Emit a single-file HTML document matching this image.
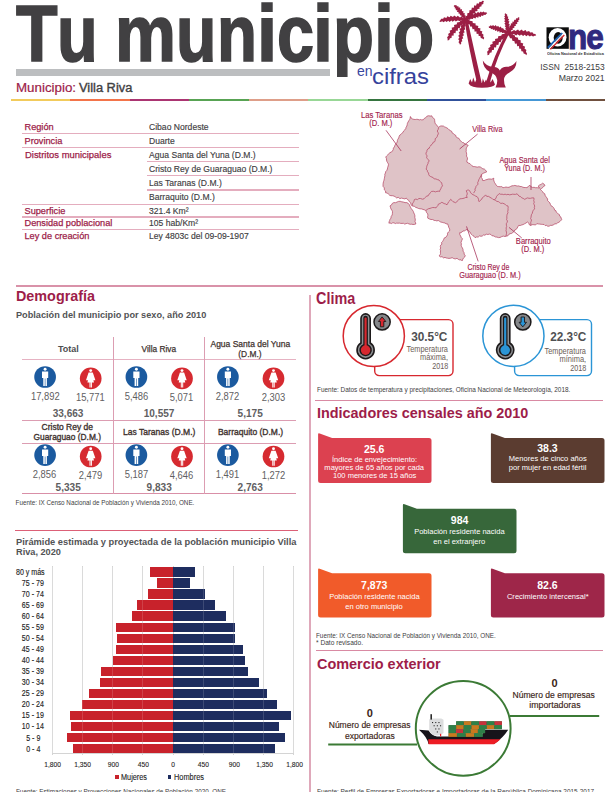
<!DOCTYPE html>
<html><head><meta charset="utf-8"><title>Tu municipio en cifras - Villa Riva</title>
<style>
html,body{margin:0;padding:0;background:#fff;}
body{width:612px;height:792px;position:relative;overflow:hidden;font-family:"Liberation Sans",sans-serif;}
.t{position:absolute;white-space:nowrap;line-height:1;margin:0;padding:0;}
.r{position:absolute;}
svg{position:absolute;left:0;top:0;overflow:visible;}
</style></head><body>

<div class="r" style="left:16.00px;top:69.30px;width:314.20px;height:7.10px;background:#bcbec0;"></div>
<div class="t" style="left:16.01px;top:-6.42px;font-size:80px;font-weight:bold;color:#414042;transform-origin:0 50%;transform:scaleX(0.8501);-webkit-text-stroke:1.6px #414042;">T</div>
<div class="t" style="left:57.00px;top:-6.42px;font-size:80px;font-weight:bold;color:#414042;transform-origin:0 50%;transform:scaleX(0.8333);-webkit-text-stroke:1.6px #414042;">u</div>
<div class="t" style="left:115.04px;top:-6.42px;font-size:80px;font-weight:bold;color:#414042;transform-origin:0 50%;transform:scaleX(0.8576);-webkit-text-stroke:1.6px #414042;">m</div>
<div class="t" style="left:176.42px;top:-6.42px;font-size:80px;font-weight:bold;color:#414042;transform-origin:0 50%;transform:scaleX(0.8284);-webkit-text-stroke:1.6px #414042;">u</div>
<div class="t" style="left:216.92px;top:-6.42px;font-size:80px;font-weight:bold;color:#414042;transform-origin:0 50%;transform:scaleX(0.8184);-webkit-text-stroke:1.6px #414042;">n</div>
<div class="t" style="left:257.06px;top:-6.42px;font-size:80px;font-weight:bold;color:#414042;transform-origin:0 50%;transform:scaleX(0.9048);-webkit-text-stroke:1.6px #414042;">i</div>
<div class="t" style="left:276.79px;top:-6.42px;font-size:80px;font-weight:bold;color:#414042;transform-origin:0 50%;transform:scaleX(0.8325);-webkit-text-stroke:1.6px #414042;">c</div>
<div class="t" style="left:313.30px;top:-6.42px;font-size:80px;font-weight:bold;color:#414042;transform-origin:0 50%;transform:scaleX(0.8968);-webkit-text-stroke:1.6px #414042;">i</div>
<div class="t" style="left:333.33px;top:-6.42px;font-size:80px;font-weight:bold;color:#414042;transform-origin:0 50%;transform:scaleX(0.8377);-webkit-text-stroke:1.6px #414042;clip-path:inset(-10px -10px -3.5px -10px);">p</div>
<div class="t" style="left:373.70px;top:-6.42px;font-size:80px;font-weight:bold;color:#414042;transform-origin:0 50%;transform:scaleX(0.8968);-webkit-text-stroke:1.6px #414042;">i</div>
<div class="t" style="left:392.86px;top:-6.42px;font-size:80px;font-weight:bold;color:#414042;transform-origin:0 50%;transform:scaleX(0.8416);-webkit-text-stroke:1.6px #414042;">o</div>
<div class="t" style="top:64.00px;font-size:14.5px;color:#3a479f;left:356.60px;transform-origin:0 50%;transform:scaleX(0.9672);">en</div>
<div class="t" style="top:66.00px;font-size:22.5px;color:#36439c;left:372.40px;transform-origin:0 50%;transform:scaleX(1.0603);">cifras</div>
<div class="t" style="top:82.00px;font-size:12px;color:#9d1d49;left:16.00px;transform-origin:0 50%;transform:scaleX(1.1106);-webkit-text-stroke:0.2px #9d1d49;">Municipio:</div>
<div class="t" style="top:82.00px;font-size:12px;color:#414042;left:79.00px;transform-origin:0 50%;transform:scaleX(1.0703);-webkit-text-stroke:0.35px #414042;">Villa Riva</div>
<div class="t" style="top:62.00px;font-size:9.6px;color:#3a3a3c;left:530.55px;transform-origin:100% 50%;transform:scaleX(0.8744);white-space:pre;">ISSN  2518-2153</div>
<div class="t" style="top:73.00px;font-size:9.6px;color:#3a3a3c;left:553.50px;transform-origin:100% 50%;transform:scaleX(0.9074);">Marzo 2021</div>
<svg width="612" height="100" viewBox="0 0 612 100">
<g fill="#9c1f45">
<path d="M465.6,19.6 L467.2,19.9 L467.8,18.6 L470.2,17.6 L470.3,16.2 L472.9,15.4 L472.7,13.8 L475.4,13.1 L475.0,11.5 L477.6,10.9 L477.2,9.2 L479.7,8.6 L479.4,6.9 L481.6,6.3 L481.5,4.7 L483.3,3.9 L483.4,2.3 L484.0,1.0 L484.0,1.0 L484.0,1.0 L482.4,0.7 L481.2,2.0 L479.6,1.7 L478.6,3.7 L476.9,3.3 L476.0,5.7 L474.3,5.3 L473.6,7.9 L471.9,7.6 L471.3,10.3 L469.6,10.1 L469.1,12.9 L467.5,13.0 L467.1,15.7 L465.7,16.3 L465.2,18.8Z"/>
<path d="M465.6,19.6 L466.8,20.5 L467.8,19.6 L470.0,19.8 L470.6,18.7 L473.0,19.1 L473.3,17.8 L475.7,18.4 L476.0,17.0 L478.3,17.7 L478.6,16.2 L480.8,16.9 L481.2,15.5 L483.1,16.0 L483.7,14.7 L485.4,15.0 L486.2,13.9 L487.2,13.2 L487.2,13.2 L487.2,13.2 L486.2,12.2 L484.7,12.6 L483.6,11.6 L481.9,12.6 L480.9,11.5 L479.2,13.0 L478.1,11.8 L476.4,13.6 L475.2,12.5 L473.6,14.4 L472.4,13.6 L470.9,15.6 L469.6,15.1 L468.2,17.0 L466.9,16.9 L465.6,18.8Z"/>
<path d="M465.6,19.6 L466.5,18.4 L465.6,17.7 L465.7,15.6 L464.6,15.3 L464.7,13.1 L463.4,13.2 L463.3,10.9 L462.0,11.2 L461.8,9.0 L460.4,9.4 L460.1,7.3 L458.8,7.8 L458.2,6.0 L457.0,6.4 L456.3,5.0 L455.1,5.3 L454.0,5.2 L454.0,5.2 L454.0,5.2 L453.8,6.4 L454.9,7.1 L454.6,8.3 L456.1,8.8 L455.6,10.0 L457.5,10.5 L456.8,11.7 L458.8,12.2 L458.2,13.3 L460.3,13.9 L459.6,15.0 L461.7,15.7 L461.3,16.8 L463.2,17.6 L463.1,18.6 L464.8,19.6Z"/>
<path d="M465.6,19.6 L465.2,18.0 L463.6,18.2 L461.4,16.6 L460.0,17.4 L457.7,15.8 L456.5,17.0 L454.1,15.5 L453.0,16.9 L450.6,15.7 L449.7,17.2 L447.2,16.3 L446.4,17.9 L444.0,17.3 L443.2,18.8 L441.2,18.8 L440.3,20.2 L439.2,21.2 L439.2,21.2 L439.2,21.2 L440.6,22.0 L442.2,21.3 L443.5,22.2 L445.3,21.0 L446.4,22.1 L448.4,20.7 L449.4,22.0 L451.6,20.4 L452.5,21.8 L454.8,20.3 L455.7,21.5 L458.1,20.2 L459.0,21.3 L461.5,20.2 L462.7,21.0 L465.1,20.3Z"/>
<path d="M465.6,19.6 L464.1,18.7 L463.0,20.0 L460.3,20.4 L459.8,22.0 L456.9,22.6 L456.9,24.3 L454.0,25.1 L454.3,26.9 L451.6,27.8 L452.1,29.6 L449.6,30.8 L450.2,32.6 L448.1,33.9 L448.7,35.6 L447.1,37.2 L447.6,38.8 L447.6,40.4 L447.6,40.4 L447.6,40.4 L449.2,40.0 L449.9,38.2 L451.5,37.9 L451.8,35.6 L453.5,35.7 L453.8,33.1 L455.5,33.3 L455.9,30.6 L457.6,30.9 L458.1,28.1 L459.7,28.4 L460.5,25.6 L462.0,25.7 L463.0,23.1 L464.5,22.9 L465.7,20.5Z"/>
<path d="M465.6,19.6 L464.1,19.7 L463.9,21.2 L462.1,23.0 L462.5,24.4 L460.6,26.2 L461.3,27.6 L459.4,29.5 L460.4,30.8 L458.7,32.8 L459.8,34.0 L458.2,36.0 L459.4,37.2 L458.2,39.2 L459.3,40.4 L458.5,42.2 L459.5,43.4 L460.0,44.8 L460.0,44.8 L460.0,44.8 L461.2,43.8 L461.1,42.1 L462.3,41.2 L461.8,39.1 L463.2,38.4 L462.5,36.1 L463.9,35.5 L463.2,33.1 L464.6,32.5 L463.9,30.0 L465.3,29.4 L464.6,26.8 L465.8,26.1 L465.4,23.6 L466.4,22.6 L466.2,20.2Z"/>
<path d="M465.6,19.6 L465.4,21.3 L466.9,21.8 L468.0,24.2 L469.5,24.2 L470.4,26.8 L471.9,26.6 L472.6,29.3 L474.2,28.9 L474.7,31.7 L476.3,31.3 L476.7,33.9 L478.4,33.7 L478.7,36.1 L480.3,36.1 L480.8,38.1 L482.3,38.5 L483.6,39.4 L483.6,39.4 L483.6,39.4 L484.2,37.8 L483.1,36.3 L483.6,34.7 L481.7,33.3 L482.4,31.6 L480.0,30.4 L480.6,28.6 L477.9,27.7 L478.4,25.9 L475.5,25.2 L475.7,23.4 L472.8,22.9 L472.6,21.2 L469.8,20.8 L469.0,19.4 L466.4,19.1Z"/>
<path d="M507.5,33.4 L508.8,32.8 L508.4,31.7 L509.4,29.8 L508.6,28.9 L509.7,27.0 L508.7,26.3 L509.8,24.3 L508.5,23.6 L509.5,21.6 L508.2,21.1 L509.1,19.2 L507.8,18.6 L508.3,16.8 L507.1,16.3 L507.3,14.7 L506.3,14.1 L505.5,13.2 L505.5,13.2 L505.5,13.2 L504.6,14.1 L505.1,15.4 L504.2,16.3 L505.1,17.8 L504.1,18.6 L505.3,20.2 L504.1,21.0 L505.5,22.7 L504.3,23.4 L505.7,25.2 L504.7,25.9 L506.0,27.7 L505.2,28.5 L506.4,30.3 L505.8,31.3 L506.8,33.1Z"/>
<path d="M507.5,33.4 L509.0,33.5 L509.2,32.4 L511.1,31.5 L510.9,30.4 L513.0,29.5 L512.5,28.4 L514.6,27.6 L514.0,26.4 L516.1,25.6 L515.4,24.4 L517.4,23.7 L516.8,22.5 L518.6,21.7 L518.1,20.5 L519.4,19.7 L519.2,18.5 L519.4,17.4 L519.4,17.4 L519.4,17.4 L518.1,17.2 L517.4,18.4 L516.1,18.2 L515.6,19.9 L514.2,19.7 L513.9,21.7 L512.5,21.4 L512.3,23.6 L510.9,23.3 L510.8,25.6 L509.4,25.5 L509.4,27.8 L508.2,28.0 L508.2,30.2 L507.1,30.7 L507.1,32.7Z"/>
<path d="M507.5,33.4 L508.4,34.7 L510.0,34.1 L512.5,35.1 L513.8,34.1 L516.3,35.4 L517.4,34.2 L519.9,35.7 L521.0,34.4 L523.3,36.0 L524.4,34.7 L526.6,36.2 L527.8,35.0 L529.9,36.4 L531.2,35.4 L533.1,36.5 L534.6,35.8 L536.2,35.6 L536.2,35.6 L536.2,35.6 L535.4,34.1 L533.4,33.8 L532.4,32.3 L530.1,32.6 L529.1,31.0 L526.6,31.7 L525.6,30.1 L523.0,31.2 L521.9,29.6 L519.3,30.9 L518.0,29.6 L515.5,31.1 L514.1,30.1 L511.6,31.6 L510.0,31.1 L507.8,32.6Z"/>
<path d="M507.5,33.4 L507.3,35.1 L508.9,35.7 L510.1,38.2 L511.7,38.3 L512.6,41.0 L514.3,40.9 L515.0,43.7 L516.7,43.4 L517.2,46.3 L518.9,46.1 L519.3,48.8 L521.0,48.7 L521.4,51.2 L523.1,51.4 L523.6,53.6 L525.1,54.1 L526.4,55.2 L526.4,55.2 L526.4,55.2 L527.0,53.5 L525.9,51.8 L526.4,50.1 L524.5,48.5 L525.1,46.7 L522.7,45.4 L523.3,43.5 L520.5,42.4 L520.9,40.5 L518.0,39.6 L518.1,37.7 L515.1,37.1 L514.8,35.3 L511.9,34.8 L511.1,33.3 L508.3,32.9Z"/>
<path d="M507.5,33.4 L507.7,31.8 L506.5,31.6 L505.4,29.6 L504.2,29.9 L503.0,27.9 L501.9,28.6 L500.6,26.6 L499.4,27.6 L498.0,25.7 L497.0,26.8 L495.5,25.1 L494.5,26.3 L493.0,25.0 L492.0,26.1 L490.6,25.3 L489.6,26.3 L488.6,26.8 L488.6,26.8 L488.6,26.8 L489.1,28.0 L490.5,28.0 L491.0,29.2 L492.7,28.7 L492.9,30.1 L494.9,29.5 L495.0,30.9 L497.1,30.2 L497.1,31.7 L499.4,31.0 L499.5,32.4 L501.8,31.9 L501.9,33.1 L504.2,32.8 L504.7,33.8 L506.8,33.8Z"/>
<path d="M507.5,33.4 L506.1,32.5 L504.8,33.8 L501.9,34.2 L501.2,35.8 L498.2,36.3 L498.0,38.2 L495.0,38.9 L495.2,40.8 L492.3,41.8 L492.7,43.7 L490.0,44.9 L490.5,46.8 L488.3,48.2 L488.8,50.1 L487.1,51.7 L487.5,53.5 L487.4,55.2 L487.4,55.2 L487.4,55.2 L489.1,54.7 L489.8,52.8 L491.5,52.4 L492.0,50.0 L493.8,50.0 L494.2,47.3 L496.0,47.5 L496.5,44.7 L498.3,44.9 L499.0,42.1 L500.7,42.3 L501.6,39.5 L503.3,39.6 L504.5,36.9 L506.1,36.7 L507.6,34.3Z"/>
<path d="M464.4,19 Q468.6,48 477.2,83.8 L481.9,83.8 Q473.6,48 467.4,19Z"/>
<path d="M506.3,33 Q494.2,54 485.6,83.8 L489.4,83.8 Q497.2,56 508.8,34.3Z"/>
<path d="M468.6,83.5 L470.2,79 L472,82.5 L473.2,77.5 L475,82.5 L476.6,79 L478,83 L482,83 L482.8,78.5 L484.5,82.5 L486,79.5 L487.4,82.5 L489.6,78 L490.6,82.5 L492.6,79 L495,84.5 Q494,87.6 482,87.8 Q471,87.8 468.6,83.5Z"/>
<path d="M482.8,60.5 Q486,66 493,67 Q498,66.5 499.8,70.5 Q502,66.5 507,66.8 Q513.5,66 516.5,61 Q516.5,69 509.5,72.5 Q504,75 504,80 Q504,84.5 505.8,87.5 L495.5,87.5 Q497.5,84 497.2,80 Q496.5,74.5 490,72 Q483,68.5 482.8,60.5Z"/>
</g>
<rect x="546.5" y="27.3" width="22.3" height="21.5" fill="#0d0d0d"/>
<ellipse cx="557.6" cy="37.3" rx="8.9" ry="9.2" fill="#fff"/>
<ellipse cx="558.2" cy="37.8" rx="4.5" ry="5.9" fill="#0d0d0d"/>
<path d="M547.2,47.0 L561.6,32.4 L563.0,33.6 L548.6,48.6Z" fill="#1f63b5"/>
<path d="M548.6,48.6 L563.0,33.6 L563.8,34.4 L549.6,49.2Z" fill="#fff"/>
<path d="M549.6,49.2 L563.8,34.4 L564.8,35.6 L551.2,49.6Z" fill="#d7282f"/>
</svg>
<div class="t" style="top:20.00px;font-size:34.5px;color:#2f2a7f;font-weight:bold;left:568.30px;transform-origin:0 50%;transform:scaleX(0.9140);letter-spacing:-1px;-webkit-text-stroke:1.0px #2f2a7f;">ne</div>
<div class="t" style="top:52.00px;font-size:3.9px;color:#333;font-weight:bold;left:546.70px;transform-origin:0 50%;transform:scaleX(0.9850);">Oficina Nacional de Estadística</div>
<div class="r" style="left:11.00px;top:99.00px;width:59.72px;height:1.55px;background:#f2cb5c;"></div>
<div class="r" style="left:70.42px;top:99.00px;width:59.72px;height:1.55px;background:#f3744a;"></div>
<div class="r" style="left:129.84px;top:99.00px;width:59.72px;height:1.55px;background:#ab3572;"></div>
<div class="r" style="left:189.26px;top:99.00px;width:59.72px;height:1.55px;background:#58a353;"></div>
<div class="r" style="left:248.68px;top:99.00px;width:59.72px;height:1.55px;background:#de9e89;"></div>
<div class="r" style="left:308.10px;top:99.00px;width:59.72px;height:1.55px;background:#98d796;"></div>
<div class="r" style="left:367.52px;top:99.00px;width:59.72px;height:1.55px;background:#35743f;"></div>
<div class="r" style="left:426.94px;top:99.00px;width:59.72px;height:1.55px;background:#30519b;"></div>
<div class="r" style="left:486.36px;top:99.00px;width:59.72px;height:1.55px;background:#4597d5;"></div>
<div class="r" style="left:545.78px;top:99.00px;width:59.72px;height:1.55px;background:#70503f;"></div>
<div class="t" style="top:123.00px;font-size:9.2px;color:#9d1d49;left:24.50px;transform-origin:0 50%;-webkit-text-stroke:0.25px #9d1d49;">Región</div>
<div class="t" style="top:123.00px;font-size:8.8px;color:#414042;left:149.00px;transform-origin:0 50%;transform:scaleX(0.9750);-webkit-text-stroke:0.15px #414042;">Cibao Nordeste</div>
<div class="t" style="top:137.00px;font-size:9.2px;color:#9d1d49;left:24.50px;transform-origin:0 50%;-webkit-text-stroke:0.25px #9d1d49;">Provincia</div>
<div class="t" style="top:137.00px;font-size:8.8px;color:#414042;left:149.00px;transform-origin:0 50%;transform:scaleX(0.9750);-webkit-text-stroke:0.15px #414042;">Duarte</div>
<div class="t" style="top:151.00px;font-size:9.2px;color:#9d1d49;left:24.50px;transform-origin:0 50%;transform:scaleX(1.0254);-webkit-text-stroke:0.25px #9d1d49;">Distritos municipales</div>
<div class="t" style="top:151.00px;font-size:8.8px;color:#414042;left:149.00px;transform-origin:0 50%;transform:scaleX(0.9750);-webkit-text-stroke:0.15px #414042;">Agua Santa del Yuna (D.M.)</div>
<div class="t" style="top:165.00px;font-size:8.8px;color:#414042;left:149.00px;transform-origin:0 50%;transform:scaleX(0.9750);-webkit-text-stroke:0.15px #414042;">Cristo Rey de Guaraguao (D.M.)</div>
<div class="t" style="top:179.00px;font-size:8.8px;color:#414042;left:149.00px;transform-origin:0 50%;transform:scaleX(0.9750);-webkit-text-stroke:0.15px #414042;">Las Taranas (D.M.)</div>
<div class="t" style="top:193.00px;font-size:8.8px;color:#414042;left:149.00px;transform-origin:0 50%;transform:scaleX(0.9750);-webkit-text-stroke:0.15px #414042;">Barraquito (D.M.)</div>
<div class="t" style="top:207.00px;font-size:9.2px;color:#9d1d49;left:24.50px;transform-origin:0 50%;-webkit-text-stroke:0.25px #9d1d49;">Superficie</div>
<div class="t" style="top:207.00px;font-size:8.8px;color:#414042;left:149.00px;transform-origin:0 50%;transform:scaleX(0.9750);-webkit-text-stroke:0.15px #414042;">321.4 Km²</div>
<div class="t" style="top:219.00px;font-size:9.2px;color:#9d1d49;left:24.50px;transform-origin:0 50%;-webkit-text-stroke:0.25px #9d1d49;">Densidad poblacional</div>
<div class="t" style="top:219.00px;font-size:8.8px;color:#414042;left:149.00px;transform-origin:0 50%;transform:scaleX(0.9750);-webkit-text-stroke:0.15px #414042;">105 hab/Km²</div>
<div class="t" style="top:232.00px;font-size:9.2px;color:#9d1d49;left:24.50px;transform-origin:0 50%;-webkit-text-stroke:0.25px #9d1d49;">Ley de creación</div>
<div class="t" style="top:232.00px;font-size:8.8px;color:#414042;left:149.00px;transform-origin:0 50%;transform:scaleX(0.9750);-webkit-text-stroke:0.15px #414042;">Ley 4803c del 09-09-1907</div>
<div class="r" style="left:22.00px;top:132.80px;width:277.00px;height:1.50px;background:#e4adbe;"></div>
<div class="r" style="left:22.00px;top:146.80px;width:277.00px;height:1.50px;background:#e4adbe;"></div>
<div class="r" style="left:147.00px;top:160.80px;width:152.00px;height:1.50px;background:#e4adbe;"></div>
<div class="r" style="left:147.00px;top:174.80px;width:152.00px;height:1.50px;background:#e4adbe;"></div>
<div class="r" style="left:147.00px;top:189.30px;width:152.00px;height:1.50px;background:#e4adbe;"></div>
<div class="r" style="left:22.00px;top:203.60px;width:277.00px;height:1.50px;background:#e4adbe;"></div>
<div class="r" style="left:22.00px;top:216.10px;width:277.00px;height:1.50px;background:#e4adbe;"></div>
<div class="r" style="left:22.00px;top:228.60px;width:277.00px;height:1.50px;background:#e4adbe;"></div>
<svg width="612" height="792" viewBox="0 0 612 792">
<path d="M410.4,116.5 L411.2,118.1 L412.6,119.0 L414.0,119.4 L415.3,119.5 L416.7,119.3 L418.0,119.4 L419.2,119.9 L420.8,119.5 L421.7,119.9 L423.4,119.7 L424.3,118.4 L425.6,117.8 L426.9,116.2 L428.8,115.7 L430.1,116.1 L431.7,115.8 L432.3,117.2 L433.3,117.8 L434.5,119.3 L434.7,120.7 L434.9,122.3 L435.3,123.8 L436.5,124.7 L437.2,125.8 L438.6,127.4 L439.6,126.4 L441.0,125.9 L443.5,126.1 L444.6,126.9 L445.9,127.4 L447.0,128.0 L448.2,128.8 L449.1,129.8 L450.3,130.6 L451.6,131.2 L452.1,132.8 L453.4,133.5 L454.3,134.6 L455.7,135.3 L456.1,136.9 L457.1,137.7 L458.6,138.1 L459.4,139.2 L460.1,140.5 L461.3,141.4 L462.5,142.5 L464.0,142.9 L465.2,144.1 L466.6,144.6 L468.2,145.3 L467.4,146.4 L466.6,147.6 L466.1,149.0 L466.3,150.3 L466.1,151.7 L466.5,152.9 L466.7,154.4 L466.5,156.1 L467.3,157.5 L467.5,159.0 L467.0,160.4 L466.9,162.1 L468.3,163.0 L469.9,163.6 L470.9,164.7 L472.0,165.8 L473.2,166.5 L474.7,166.6 L476.0,166.9 L477.4,167.1 L478.9,166.8 L480.3,167.0 L481.5,167.8 L482.8,168.8 L484.4,169.1 L485.6,170.2 L486.7,171.9 L485.2,172.5 L483.8,173.0 L481.3,174.5 L481.7,176.0 L481.4,177.6 L482.4,178.9 L482.5,180.4 L484.1,180.6 L485.5,179.9 L487.0,179.5 L488.5,179.0 L490.2,179.0 L491.8,179.2 L493.8,178.2 L493.6,179.9 L494.1,181.3 L494.6,182.7 L495.5,183.9 L496.2,185.2 L497.3,186.3 L498.7,186.6 L500.2,186.7 L501.7,186.6 L503.0,187.7 L504.5,187.4 L506.0,187.0 L507.5,187.3 L509.0,187.3 L510.4,186.5 L512.0,185.8 L513.5,185.7 L514.9,185.4 L516.1,185.8 L517.5,186.0 L518.9,185.9 L520.0,186.5 L521.4,186.5 L522.7,187.1 L524.0,187.5 L525.3,187.5 L526.9,187.6 L528.3,186.6 L529.7,185.1 L530.8,186.6 L532.4,187.4 L534.1,187.3 L535.5,187.7 L537.5,187.7 L539.6,188.1 L538.2,186.1 L539.5,185.0 L541.1,184.4 L542.5,183.2 L543.9,183.9 L545.0,185.6 L543.6,186.3 L542.8,187.5 L541.6,188.4 L540.2,189.3 L541.4,190.4 L542.5,191.5 L543.3,192.9 L544.8,193.8 L545.1,195.3 L545.9,196.6 L546.8,197.8 L547.6,199.0 L547.6,200.7 L548.8,201.8 L549.9,202.9 L550.4,204.4 L551.1,205.8 L552.6,206.6 L553.5,207.6 L554.2,208.7 L554.6,210.1 L555.9,210.7 L556.3,212.2 L557.3,213.1 L558.3,213.9 L559.4,214.6 L559.7,216.1 L560.7,216.8 L561.2,218.1 L561.7,219.7 L559.9,221.5 L558.9,222.3 L557.6,222.8 L556.6,223.7 L554.8,223.9 L553.3,224.9 L551.9,225.4 L550.3,225.4 L549.3,226.1 L547.8,226.3 L546.7,225.4 L545.2,225.6 L544.1,224.5 L542.7,224.4 L541.2,224.3 L539.7,224.1 L538.6,224.0 L536.8,223.6 L535.6,225.0 L533.9,224.7 L532.2,224.7 L530.7,225.4 L529.3,224.8 L528.9,223.2 L527.4,222.0 L526.0,223.0 L524.5,223.8 L523.0,224.6 L521.6,225.0 L520.3,225.5 L518.7,225.4 L517.9,226.7 L517.2,228.0 L516.3,229.3 L514.8,230.0 L514.1,231.4 L512.9,232.4 L511.7,233.4 L510.1,233.7 L508.8,234.4 L507.9,235.8 L506.4,236.1 L505.0,236.5 L503.2,236.1 L501.6,236.7 L500.0,237.5 L498.4,237.6 L496.9,237.1 L495.5,237.0 L493.9,236.0 L491.9,235.7 L490.9,234.5 L489.4,234.1 L487.9,234.5 L486.3,234.2 L484.9,235.2 L483.4,235.0 L482.3,236.0 L481.0,236.3 L479.5,235.9 L478.2,237.1 L476.4,237.0 L475.1,237.7 L474.3,236.5 L472.9,235.7 L471.9,234.7 L470.8,233.7 L470.0,232.0 L468.5,231.1 L467.1,229.5 L465.7,229.9 L464.5,231.1 L463.0,230.9 L462.0,232.0 L460.8,232.7 L459.7,232.7 L459.8,234.6 L460.7,236.1 L461.3,237.6 L462.5,238.8 L461.7,240.6 L461.0,242.5 L461.4,243.9 L461.2,245.3 L461.6,246.6 L462.4,247.9 L463.0,249.4 L463.1,251.2 L464.0,252.5 L464.2,254.2 L465.2,255.5 L464.8,256.9 L463.7,257.8 L462.9,259.0 L462.1,260.9 L461.1,259.8 L459.6,259.9 L458.4,259.4 L457.0,258.3 L455.4,258.9 L453.8,258.6 L452.2,257.7 L450.6,258.2 L449.0,258.4 L447.6,258.2 L446.3,258.0 L445.0,257.4 L443.5,257.9 L442.1,256.7 L440.4,256.9 L439.1,255.9 L440.0,254.8 L440.5,253.5 L440.4,252.1 L440.6,250.8 L440.1,249.4 L440.7,248.0 L440.3,246.6 L440.6,245.2 L441.9,244.1 L441.5,242.6 L442.5,241.6 L443.2,240.4 L443.8,239.2 L444.3,237.9 L445.9,237.3 L446.7,236.1 L447.5,234.9 L447.5,233.2 L448.4,232.0 L449.6,231.0 L449.7,229.1 L448.8,227.5 L448.3,225.7 L447.6,223.9 L446.1,223.8 L444.9,223.0 L443.4,222.7 L442.1,222.3 L440.8,222.1 L439.7,221.4 L438.3,220.5 L436.8,220.9 L435.4,220.5 L434.1,220.4 L432.7,219.5 L431.0,219.5 L429.4,219.0 L427.8,218.2 L427.6,216.8 L427.9,215.3 L427.7,213.9 L426.4,212.3 L425.9,210.6 L424.5,209.9 L423.0,209.4 L421.5,208.9 L420.0,208.8 L418.5,208.5 L417.1,207.8 L415.7,207.4 L414.5,206.4 L411.9,205.8 L411.0,204.4 L410.6,202.7 L409.3,201.7 L408.7,200.3 L407.4,199.6 L406.4,198.2 L404.8,198.9 L403.1,198.5 L401.6,198.1 L399.8,198.6 L398.3,197.4 L396.5,197.9 L395.3,196.8 L394.0,196.1 L392.5,195.7 L390.9,195.7 L389.5,195.2 L388.4,194.1 L387.3,193.0 L385.6,192.8 L385.6,191.0 L384.2,189.7 L384.4,187.9 L383.1,186.5 L383.0,184.7 L383.2,183.1 L383.5,181.6 L384.0,180.2 L384.3,178.7 L384.6,177.1 L384.9,175.7 L384.8,174.2 L385.5,173.0 L385.7,171.6 L386.7,170.6 L387.4,169.0 L387.7,167.3 L388.2,166.0 L388.5,164.2 L387.7,162.8 L386.9,161.5 L386.5,160.0 L386.4,158.4 L385.7,157.0 L386.7,155.9 L387.8,154.9 L388.8,153.8 L389.8,152.6 L391.4,152.1 L392.4,151.0 L393.2,149.7 L393.4,148.1 L394.4,146.9 L394.8,145.5 L395.5,144.3 L396.3,143.1 L397.3,142.1 L397.3,140.7 L397.7,139.5 L398.7,138.0 L399.2,136.2 L399.9,135.0 L401.2,134.2 L402.1,133.1 L403.1,132.1 L403.8,130.8 L404.8,129.9 L405.7,128.8 L406.0,127.4 L406.8,126.1 L407.2,124.7 L407.4,123.3 L408.1,122.0 L408.8,120.7 L409.6,119.6 L410.1,118.3Z" fill="#dfc3c7" stroke="#b23f5f" stroke-width="0.7" stroke-linejoin="round"/>
<path d="M390.0,205.9 L391.4,205.1 L392.3,203.4 L393.8,202.6 L395.6,202.7 L397.1,202.0 L398.5,201.4 L400.2,201.3 L401.8,201.8 L403.5,202.1 L405.1,202.6 L406.8,202.6 L408.4,203.5 L409.3,204.6 L409.9,206.0 L410.5,207.2 L411.3,208.7 L412.4,210.0 L413.3,211.4 L413.8,212.9 L414.5,214.3 L414.9,215.8 L414.8,217.5 L415.2,218.8 L415.3,220.1 L415.0,221.5 L415.6,222.8 L415.8,224.0 L414.4,224.4 L413.0,224.5 L411.7,224.2 L410.3,224.3 L408.9,223.9 L407.5,223.3 L406.1,223.6 L404.7,224.1 L403.4,223.3 L402.0,223.4 L400.7,223.4 L399.4,223.1 L398.0,223.2 L396.7,223.1 L395.3,223.6 L394.0,222.8 L392.7,222.8 L391.3,223.6 L390.0,222.9 L388.9,223.2 L389.1,221.8 L389.6,220.6 L390.0,219.3 L390.9,218.2 L391.2,216.4 L392.2,215.0 L392.4,213.4 L392.5,211.7 L391.9,210.3 L391.0,209.0 L390.4,207.2Z" fill="#dfc3c7" stroke="#b23f5f" stroke-width="0.7" stroke-linejoin="round"/>
<path d="M438.6,127.5 L438.2,129.4 L437.2,131.0 L438.0,132.4 L438.4,133.9 L437.6,135.1 L437.2,136.6 L436.5,137.7 L435.2,138.7 L435.2,140.3 L434.7,141.7 L433.1,142.3 L432.5,143.9 L431.2,144.8 L430.6,146.0 L429.6,146.9 L429.2,148.3 L427.9,148.9 L427.0,150.2 L426.8,151.7 L425.9,153.0 L426.2,154.5 L427.1,155.9 L426.6,157.6 L427.4,158.7 L428.3,159.7 L429.3,161.2 L428.0,162.2 L428.0,163.7 L427.3,164.9 L426.8,166.2 L426.6,167.6 L426.1,169.2 L427.3,170.3 L427.5,171.8 L428.6,173.0 L428.7,174.5 L429.5,175.9 L430.7,176.6 L432.0,177.1 L433.3,177.7 L434.3,179.0 L435.9,178.9 L437.3,179.6 L438.9,179.9 L439.6,181.0 L440.7,181.9 L441.7,182.9 L442.0,184.5 L442.5,185.9 L441.4,187.2 L440.8,188.9 L439.9,190.2 L439.7,191.4 L438.3,191.2 L436.9,191.4 L435.5,191.9 L433.7,191.3 L431.5,191.4 L430.6,192.4 L429.9,193.6 L428.8,194.4 L428.2,195.8 L426.4,196.2 L425.3,197.5 L424.0,198.8 L422.4,199.2 L420.6,198.5 L418.9,198.5 L417.5,199.6 L415.8,199.1 L414.3,199.6 L414.0,201.2 L413.2,202.6 L412.4,203.9 L412.3,205.5" fill="none" stroke="#b23f5f" stroke-width="0.7" stroke-linejoin="round"/>
<path d="M426.0,210.4 L427.2,209.5 L428.5,208.7 L430.0,208.4 L431.4,207.9 L432.8,207.5 L434.3,207.6 L436.1,207.8 L436.9,206.7 L437.8,205.7 L438.3,204.2 L440.1,203.5 L441.8,202.3 L443.0,202.9 L444.1,203.6 L445.4,203.9 L447.0,204.8 L447.9,203.2 L448.7,201.7 L449.7,200.8 L450.7,199.3 L451.9,200.4 L452.9,201.6 L455.6,202.7 L457.0,201.5 L458.2,200.4 L459.5,198.9 L461.3,198.7 L462.9,198.5 L464.5,198.0 L465.8,197.4 L467.2,197.6 L466.6,195.8 L467.3,193.9 L466.9,192.3 L466.2,190.8 L467.6,190.1 L468.7,190.1 L470.0,191.2 L470.7,192.8 L471.7,193.9 L473.0,194.7 L474.4,195.3 L475.6,196.1 L477.1,196.7 L478.0,197.9 L478.5,199.3 L478.6,200.8 L479.2,201.7 L480.2,200.4 L481.6,199.4 L482.3,197.8 L483.5,197.1 L484.5,196.0 L485.6,194.9 L486.7,196.4 L488.7,196.4 L490.0,197.4 L491.6,198.1 L492.8,199.3 L494.4,199.8 L495.7,200.5 L496.9,201.4 L498.4,201.6 L499.6,202.5 L500.8,203.4 L502.6,203.2 L504.0,203.7 L505.3,204.5 L506.5,205.6 L507.9,205.9 L508.2,207.3 L508.0,208.7 L508.1,210.0 L507.7,211.4 L508.0,212.8 L507.2,214.1 L506.9,215.5 L506.8,216.8 L506.9,218.2 L506.6,219.6 L507.5,221.0 L507.1,222.4 L506.3,223.7 L506.4,225.2 L506.7,226.6 L506.1,227.9 L506.3,229.3 L506.0,230.7 L506.5,232.1 L506.5,233.5 L506.2,234.9 L506.0,236.3" fill="none" stroke="#b23f5f" stroke-width="0.7" stroke-linejoin="round"/>
<path d="M481.6,174.5 L480.9,175.8 L480.2,177.1 L479.5,178.4 L478.8,179.7 L478.4,181.2 L477.7,182.5 L478.0,184.2 L477.0,185.3 L476.0,186.4 L475.7,187.8 L474.9,189.0 L475.2,190.7 L474.3,191.8 L473.7,193.1" fill="none" stroke="#b23f5f" stroke-width="0.7" stroke-linejoin="round"/>
<path d="M494.3,200.0 L495.3,199.0 L496.1,197.9 L496.5,196.5 L497.7,195.1 L499.2,193.6 L500.7,194.3 L502.1,194.2 L503.6,194.6 L505.1,194.2 L506.5,194.7 L508.0,194.3 L509.5,194.8 L511.0,194.6 L512.4,194.2 L513.9,194.3 L515.4,194.4 L517.1,193.8 L518.1,195.0 L519.1,196.2 L520.6,196.6 L521.7,197.8 L523.2,198.4 L524.8,199.4 L526.1,198.5 L527.5,197.9 L529.0,198.3 L530.5,198.3 L532.0,197.9 L533.9,197.9 L534.0,199.3 L533.7,200.8 L534.3,202.1 L533.7,203.5 L534.2,204.8 L534.7,206.1 L534.3,207.5 L534.6,208.9 L533.3,210.2 L532.6,211.8 L532.3,213.3 L531.4,214.7 L531.2,216.0 L531.0,217.3 L530.6,218.6 L531.5,220.0 L531.1,221.4 L530.7,222.7 L530.9,224.1 L530.6,225.5" fill="none" stroke="#b23f5f" stroke-width="0.7" stroke-linejoin="round"/>
<line x1="386" y1="130.3" x2="401.2" y2="151" stroke="#9d1d49" stroke-width="0.7"/>
<line x1="477.6" y1="134.1" x2="459.6" y2="149" stroke="#9d1d49" stroke-width="0.7"/>
<line x1="531" y1="177" x2="531" y2="190" stroke="#9d1d49" stroke-width="0.7"/>
<line x1="509" y1="227.4" x2="521.8" y2="238" stroke="#9d1d49" stroke-width="0.7"/>
<line x1="466.5" y1="226.4" x2="478.2" y2="261.4" stroke="#9d1d49" stroke-width="0.7"/>
</svg>
<div class="t" style="top:111.00px;font-size:8.4px;color:#a3234d;left:358.59px;transform-origin:50% 50%;transform:scaleX(0.9143);-webkit-text-stroke:0.15px #a3234d;">Las Taranas</div>
<div class="t" style="top:119.00px;font-size:8.4px;color:#a3234d;left:368.37px;transform-origin:50% 50%;transform:scaleX(0.9041);-webkit-text-stroke:0.15px #a3234d;">(D. M.)</div>
<div class="t" style="top:125.00px;font-size:8.4px;color:#a3234d;left:470.47px;transform-origin:50% 50%;transform:scaleX(0.8720);-webkit-text-stroke:0.15px #a3234d;">Villa Riva</div>
<div class="t" style="top:156.00px;font-size:8.4px;color:#a3234d;left:495.78px;transform-origin:50% 50%;transform:scaleX(0.8791);-webkit-text-stroke:0.15px #a3234d;">Agua Santa del</div>
<div class="t" style="top:164.00px;font-size:8.4px;color:#a3234d;left:501.03px;transform-origin:50% 50%;transform:scaleX(0.8653);-webkit-text-stroke:0.15px #a3234d;">Yuna (D. M.)</div>
<div class="t" style="top:237.00px;font-size:8.4px;color:#a3234d;left:514.22px;transform-origin:50% 50%;transform:scaleX(0.9031);-webkit-text-stroke:0.15px #a3234d;">Barraquito</div>
<div class="t" style="top:245.00px;font-size:8.4px;color:#a3234d;left:520.37px;transform-origin:50% 50%;transform:scaleX(0.8963);-webkit-text-stroke:0.15px #a3234d;">(D. M.)</div>
<div class="t" style="top:263.00px;font-size:8.4px;color:#a3234d;left:463.16px;transform-origin:50% 50%;transform:scaleX(0.8254);-webkit-text-stroke:0.15px #a3234d;">Cristo Rey de</div>
<div class="t" style="top:271.00px;font-size:8.4px;color:#a3234d;left:455.29px;transform-origin:50% 50%;transform:scaleX(0.8797);-webkit-text-stroke:0.15px #a3234d;">Guaraguao (D. M.)</div>
<div class="r" style="left:15.50px;top:285.20px;width:587.50px;height:1.40px;background:#d992a9;"></div>
<div class="r" style="left:309.00px;top:294.90px;width:1.50px;height:498.00px;background:#dfa8ba;"></div>
<div class="t" style="top:288.00px;font-size:15px;color:#9d1d49;font-weight:bold;left:16.00px;transform-origin:0 50%;transform:scaleX(0.9573);">Demografía</div>
<div class="t" style="top:310.00px;font-size:9.7px;color:#525355;font-weight:bold;left:15.60px;transform-origin:0 50%;transform:scaleX(0.9450);">Población del municipio por sexo, año 2010</div>
<div class="r" style="left:22.00px;top:359.30px;width:274.40px;height:1.20px;background:#e6b2c2;"></div>
<div class="r" style="left:22.00px;top:419.90px;width:274.40px;height:1.20px;background:#dc9db2;"></div>
<div class="r" style="left:22.00px;top:442.90px;width:274.40px;height:1.20px;background:#dc9db2;"></div>
<div class="r" style="left:22.00px;top:493.30px;width:274.40px;height:1.20px;background:#d98fa7;"></div>
<div class="r" style="left:112.90px;top:337.20px;width:1.00px;height:157.20px;background:#dc9db2;"></div>
<div class="r" style="left:204.30px;top:337.20px;width:1.00px;height:157.20px;background:#dc9db2;"></div>
<svg width="612" height="792" viewBox="0 0 612 792">
<circle cx="45.099999999999994" cy="377.0" r="10.85" fill="#1b5a9f"/>
<circle cx="45.099999999999994" cy="369.2" r="1.45" fill="#fff"/>
<path d="M41.99999999999999,371.4 h6.2 v6.6 h-1.3 v8 h-1.5 v-7.6 h-0.6 v7.6 h-1.5 v-8 h-1.3z" fill="#fff"/>
<circle cx="90.69999999999999" cy="378.4" r="10.85" fill="#d62a30"/>
<circle cx="90.69999999999999" cy="370.59999999999997" r="1.45" fill="#fff"/>
<path d="M88.6,372.59999999999997 h4.2 l2.6,7.6 h-2.0 l0.6,2.2 h-2.1 v5.2 h-1.0 v-5.2 h-0.4 v5.2 h-1.0 v-5.2 h-2.1 l0.6,-2.2 h-2.0z" fill="#fff"/>
<circle cx="45.099999999999994" cy="455.1" r="10.85" fill="#1b5a9f"/>
<circle cx="45.099999999999994" cy="447.3" r="1.45" fill="#fff"/>
<path d="M41.99999999999999,449.5 h6.2 v6.6 h-1.3 v8 h-1.5 v-7.6 h-0.6 v7.6 h-1.5 v-8 h-1.3z" fill="#fff"/>
<circle cx="90.69999999999999" cy="456.5" r="10.85" fill="#d62a30"/>
<circle cx="90.69999999999999" cy="448.7" r="1.45" fill="#fff"/>
<path d="M88.6,450.7 h4.2 l2.6,7.6 h-2.0 l0.6,2.2 h-2.1 v5.2 h-1.0 v-5.2 h-0.4 v5.2 h-1.0 v-5.2 h-2.1 l0.6,-2.2 h-2.0z" fill="#fff"/>
<circle cx="136.4" cy="377.0" r="10.85" fill="#1b5a9f"/>
<circle cx="136.4" cy="369.2" r="1.45" fill="#fff"/>
<path d="M133.3,371.4 h6.2 v6.6 h-1.3 v8 h-1.5 v-7.6 h-0.6 v7.6 h-1.5 v-8 h-1.3z" fill="#fff"/>
<circle cx="182.0" cy="378.4" r="10.85" fill="#d62a30"/>
<circle cx="182.0" cy="370.59999999999997" r="1.45" fill="#fff"/>
<path d="M179.9,372.59999999999997 h4.2 l2.6,7.6 h-2.0 l0.6,2.2 h-2.1 v5.2 h-1.0 v-5.2 h-0.4 v5.2 h-1.0 v-5.2 h-2.1 l0.6,-2.2 h-2.0z" fill="#fff"/>
<circle cx="136.4" cy="455.1" r="10.85" fill="#1b5a9f"/>
<circle cx="136.4" cy="447.3" r="1.45" fill="#fff"/>
<path d="M133.3,449.5 h6.2 v6.6 h-1.3 v8 h-1.5 v-7.6 h-0.6 v7.6 h-1.5 v-8 h-1.3z" fill="#fff"/>
<circle cx="182.0" cy="456.5" r="10.85" fill="#d62a30"/>
<circle cx="182.0" cy="448.7" r="1.45" fill="#fff"/>
<path d="M179.9,450.7 h4.2 l2.6,7.6 h-2.0 l0.6,2.2 h-2.1 v5.2 h-1.0 v-5.2 h-0.4 v5.2 h-1.0 v-5.2 h-2.1 l0.6,-2.2 h-2.0z" fill="#fff"/>
<circle cx="227.9" cy="377.0" r="10.85" fill="#1b5a9f"/>
<circle cx="227.9" cy="369.2" r="1.45" fill="#fff"/>
<path d="M224.8,371.4 h6.2 v6.6 h-1.3 v8 h-1.5 v-7.6 h-0.6 v7.6 h-1.5 v-8 h-1.3z" fill="#fff"/>
<circle cx="273.5" cy="378.4" r="10.85" fill="#d62a30"/>
<circle cx="273.5" cy="370.59999999999997" r="1.45" fill="#fff"/>
<path d="M271.4,372.59999999999997 h4.2 l2.6,7.6 h-2.0 l0.6,2.2 h-2.1 v5.2 h-1.0 v-5.2 h-0.4 v5.2 h-1.0 v-5.2 h-2.1 l0.6,-2.2 h-2.0z" fill="#fff"/>
<circle cx="227.9" cy="455.1" r="10.85" fill="#1b5a9f"/>
<circle cx="227.9" cy="447.3" r="1.45" fill="#fff"/>
<path d="M224.8,449.5 h6.2 v6.6 h-1.3 v8 h-1.5 v-7.6 h-0.6 v7.6 h-1.5 v-8 h-1.3z" fill="#fff"/>
<circle cx="273.5" cy="456.5" r="10.85" fill="#d62a30"/>
<circle cx="273.5" cy="448.7" r="1.45" fill="#fff"/>
<path d="M271.4,450.7 h4.2 l2.6,7.6 h-2.0 l0.6,2.2 h-2.1 v5.2 h-1.0 v-5.2 h-0.4 v5.2 h-1.0 v-5.2 h-2.1 l0.6,-2.2 h-2.0z" fill="#fff"/>
</svg>
<div class="t" style="top:344.00px;font-size:9.8px;color:#4d4e50;font-weight:bold;left:56.56px;transform-origin:50% 50%;transform:scaleX(0.9170);">Total</div>
<div class="t" style="top:345.00px;font-size:8.6px;color:#41332f;left:140.95px;transform-origin:50% 50%;transform:scaleX(0.9666);-webkit-text-stroke:0.25px #41332f;">Villa Riva</div>
<div class="t" style="top:340.00px;font-size:8.6px;color:#41332f;left:209.67px;transform-origin:50% 50%;transform:scaleX(0.9881);-webkit-text-stroke:0.25px #41332f;">Agua Santa del Yuna</div>
<div class="t" style="top:350.00px;font-size:8.6px;color:#41332f;left:238.06px;transform-origin:50% 50%;transform:scaleX(0.9756);-webkit-text-stroke:0.25px #41332f;">(D.M.)</div>
<div class="t" style="top:423.00px;font-size:9.0px;color:#41332f;left:40.34px;transform-origin:50% 50%;transform:scaleX(0.9428);-webkit-text-stroke:0.35px #41332f;">Cristo Rey de</div>
<div class="t" style="top:433.00px;font-size:9.0px;color:#41332f;left:31.24px;transform-origin:50% 50%;transform:scaleX(0.9293);-webkit-text-stroke:0.35px #41332f;">Guaraguao (D.M.)</div>
<div class="t" style="top:428.00px;font-size:9.0px;color:#41332f;left:121.02px;transform-origin:50% 50%;transform:scaleX(0.9481);-webkit-text-stroke:0.35px #41332f;">Las Taranas (D.M.)</div>
<div class="t" style="top:428.00px;font-size:9.0px;color:#41332f;left:215.89px;transform-origin:50% 50%;transform:scaleX(0.9447);-webkit-text-stroke:0.35px #41332f;">Barraquito (D.M.)</div>
<div class="t" style="top:392.00px;font-size:10px;color:#5f6062;left:29.51px;transform-origin:50% 50%;transform:scaleX(0.9400);">17,892</div>
<div class="t" style="top:393.00px;font-size:10px;color:#5f6062;left:75.41px;transform-origin:50% 50%;transform:scaleX(0.9400);">15,771</div>
<div class="t" style="top:408.00px;font-size:10.5px;color:#5f6062;font-weight:bold;left:51.74px;transform-origin:50% 50%;transform:scaleX(0.9600);">33,663</div>
<div class="t" style="top:470.00px;font-size:10px;color:#5f6062;left:32.29px;transform-origin:50% 50%;transform:scaleX(0.9400);">2,856</div>
<div class="t" style="top:471.00px;font-size:10px;color:#5f6062;left:78.19px;transform-origin:50% 50%;transform:scaleX(0.9400);">2,479</div>
<div class="t" style="top:482.00px;font-size:10.5px;color:#5f6062;font-weight:bold;left:54.66px;transform-origin:50% 50%;transform:scaleX(0.9600);">5,335</div>
<div class="t" style="top:392.00px;font-size:10px;color:#5f6062;left:123.59px;transform-origin:50% 50%;transform:scaleX(0.9400);">5,486</div>
<div class="t" style="top:393.00px;font-size:10px;color:#5f6062;left:169.49px;transform-origin:50% 50%;transform:scaleX(0.9400);">5,071</div>
<div class="t" style="top:408.00px;font-size:10.5px;color:#5f6062;font-weight:bold;left:143.04px;transform-origin:50% 50%;transform:scaleX(0.9600);">10,557</div>
<div class="t" style="top:470.00px;font-size:10px;color:#5f6062;left:123.59px;transform-origin:50% 50%;transform:scaleX(0.9400);">5,187</div>
<div class="t" style="top:471.00px;font-size:10px;color:#5f6062;left:169.49px;transform-origin:50% 50%;transform:scaleX(0.9400);">4,646</div>
<div class="t" style="top:482.00px;font-size:10.5px;color:#5f6062;font-weight:bold;left:145.96px;transform-origin:50% 50%;transform:scaleX(0.9600);">9,833</div>
<div class="t" style="top:392.00px;font-size:10px;color:#5f6062;left:215.09px;transform-origin:50% 50%;transform:scaleX(0.9400);">2,872</div>
<div class="t" style="top:393.00px;font-size:10px;color:#5f6062;left:260.99px;transform-origin:50% 50%;transform:scaleX(0.9400);">2,303</div>
<div class="t" style="top:408.00px;font-size:10.5px;color:#5f6062;font-weight:bold;left:237.46px;transform-origin:50% 50%;transform:scaleX(0.9600);">5,175</div>
<div class="t" style="top:470.00px;font-size:10px;color:#5f6062;left:215.09px;transform-origin:50% 50%;transform:scaleX(0.9400);">1,491</div>
<div class="t" style="top:471.00px;font-size:10px;color:#5f6062;left:260.99px;transform-origin:50% 50%;transform:scaleX(0.9400);">1,272</div>
<div class="t" style="top:482.00px;font-size:10.5px;color:#5f6062;font-weight:bold;left:237.46px;transform-origin:50% 50%;transform:scaleX(0.9600);">2,763</div>
<div class="t" style="top:500.00px;font-size:6.3px;color:#414042;left:15.60px;transform-origin:0 50%;">Fuente: IX Censo Nacional de Población y Vivienda 2010, ONE.</div>
<div class="r" style="left:15.40px;top:529.90px;width:283.00px;height:1.00px;background:#dc6077;"></div>
<div class="t" style="top:537.00px;font-size:9.8px;color:#525355;font-weight:bold;left:15.60px;transform-origin:0 50%;transform:scaleX(0.9491);">Pirámide estimada y proyectada de la población municipio Villa</div>
<div class="t" style="top:547.00px;font-size:9.8px;color:#525355;font-weight:bold;left:15.60px;transform-origin:0 50%;transform:scaleX(0.9364);">Riva, 2020</div>
<div class="r" style="left:52.00px;top:752.90px;width:241.80px;height:0.80px;background:#d4d4d4;"></div>
<div class="r" style="left:51.62px;top:566.30px;width:0.80px;height:189.00px;background:#d4d4d4;"></div>
<div class="r" style="left:81.84px;top:566.30px;width:0.80px;height:189.00px;background:#d4d4d4;"></div>
<div class="r" style="left:112.06px;top:566.30px;width:0.80px;height:189.00px;background:#d4d4d4;"></div>
<div class="r" style="left:142.28px;top:566.30px;width:0.80px;height:189.00px;background:#d4d4d4;"></div>
<div class="r" style="left:172.50px;top:566.30px;width:0.80px;height:189.00px;background:#d4d4d4;"></div>
<div class="r" style="left:202.72px;top:566.30px;width:0.80px;height:189.00px;background:#d4d4d4;"></div>
<div class="r" style="left:232.94px;top:566.30px;width:0.80px;height:189.00px;background:#d4d4d4;"></div>
<div class="r" style="left:263.16px;top:566.30px;width:0.80px;height:189.00px;background:#d4d4d4;"></div>
<div class="r" style="left:293.38px;top:566.30px;width:0.80px;height:189.00px;background:#d4d4d4;"></div>
<div class="r" style="left:149.50px;top:567.40px;width:23.70px;height:9.35px;background:#c8222b;"></div>
<div class="r" style="left:172.60px;top:567.40px;width:22.90px;height:9.35px;background:#1e2d5f;"></div>
<div class="t" style="top:568.00px;font-size:8.3px;color:#1f1f1f;left:10.53px;transform-origin:100% 50%;transform:scaleX(0.8530);-webkit-text-stroke:0.15px #1f1f1f;">80 y más</div>
<div class="r" style="left:157.00px;top:578.42px;width:16.20px;height:9.35px;background:#c8222b;"></div>
<div class="r" style="left:172.60px;top:578.42px;width:17.40px;height:9.35px;background:#1e2d5f;"></div>
<div class="t" style="top:579.00px;font-size:8.3px;color:#1f1f1f;left:18.36px;transform-origin:100% 50%;transform:scaleX(0.8530);-webkit-text-stroke:0.15px #1f1f1f;">75 - 79</div>
<div class="r" style="left:147.50px;top:589.44px;width:25.70px;height:9.35px;background:#c8222b;"></div>
<div class="r" style="left:172.60px;top:589.44px;width:32.15px;height:9.35px;background:#1e2d5f;"></div>
<div class="t" style="top:590.00px;font-size:8.3px;color:#1f1f1f;left:18.36px;transform-origin:100% 50%;transform:scaleX(0.8530);-webkit-text-stroke:0.15px #1f1f1f;">70 - 74</div>
<div class="r" style="left:137.25px;top:600.46px;width:35.95px;height:9.35px;background:#c8222b;"></div>
<div class="r" style="left:172.60px;top:600.46px;width:42.40px;height:9.35px;background:#1e2d5f;"></div>
<div class="t" style="top:601.00px;font-size:8.3px;color:#1f1f1f;left:18.36px;transform-origin:100% 50%;transform:scaleX(0.8530);-webkit-text-stroke:0.15px #1f1f1f;">65 - 69</div>
<div class="r" style="left:131.50px;top:611.48px;width:41.70px;height:9.35px;background:#c8222b;"></div>
<div class="r" style="left:172.60px;top:611.48px;width:53.15px;height:9.35px;background:#1e2d5f;"></div>
<div class="t" style="top:612.00px;font-size:8.3px;color:#1f1f1f;left:18.36px;transform-origin:100% 50%;transform:scaleX(0.8530);-webkit-text-stroke:0.15px #1f1f1f;">60 - 64</div>
<div class="r" style="left:116.25px;top:622.50px;width:56.95px;height:9.35px;background:#c8222b;"></div>
<div class="r" style="left:172.60px;top:622.50px;width:62.90px;height:9.35px;background:#1e2d5f;"></div>
<div class="t" style="top:623.00px;font-size:8.3px;color:#1f1f1f;left:18.36px;transform-origin:100% 50%;transform:scaleX(0.8530);-webkit-text-stroke:0.15px #1f1f1f;">55 - 59</div>
<div class="r" style="left:117.25px;top:633.52px;width:55.95px;height:9.35px;background:#c8222b;"></div>
<div class="r" style="left:172.60px;top:633.52px;width:62.90px;height:9.35px;background:#1e2d5f;"></div>
<div class="t" style="top:634.00px;font-size:8.3px;color:#1f1f1f;left:18.36px;transform-origin:100% 50%;transform:scaleX(0.8530);-webkit-text-stroke:0.15px #1f1f1f;">50 - 54</div>
<div class="r" style="left:115.75px;top:644.54px;width:57.45px;height:9.35px;background:#c8222b;"></div>
<div class="r" style="left:172.60px;top:644.54px;width:70.40px;height:9.35px;background:#1e2d5f;"></div>
<div class="t" style="top:645.00px;font-size:8.3px;color:#1f1f1f;left:18.36px;transform-origin:100% 50%;transform:scaleX(0.8530);-webkit-text-stroke:0.15px #1f1f1f;">45 - 49</div>
<div class="r" style="left:112.90px;top:655.56px;width:60.30px;height:9.35px;background:#c8222b;"></div>
<div class="r" style="left:172.60px;top:655.56px;width:72.40px;height:9.35px;background:#1e2d5f;"></div>
<div class="t" style="top:656.00px;font-size:8.3px;color:#1f1f1f;left:18.36px;transform-origin:100% 50%;transform:scaleX(0.8530);-webkit-text-stroke:0.15px #1f1f1f;">40 - 44</div>
<div class="r" style="left:101.00px;top:666.58px;width:72.20px;height:9.35px;background:#c8222b;"></div>
<div class="r" style="left:172.60px;top:666.58px;width:75.90px;height:9.35px;background:#1e2d5f;"></div>
<div class="t" style="top:667.00px;font-size:8.3px;color:#1f1f1f;left:18.36px;transform-origin:100% 50%;transform:scaleX(0.8530);-webkit-text-stroke:0.15px #1f1f1f;">35 - 39</div>
<div class="r" style="left:99.75px;top:677.60px;width:73.45px;height:9.35px;background:#c8222b;"></div>
<div class="r" style="left:172.60px;top:677.60px;width:86.15px;height:9.35px;background:#1e2d5f;"></div>
<div class="t" style="top:678.00px;font-size:8.3px;color:#1f1f1f;left:18.36px;transform-origin:100% 50%;transform:scaleX(0.8530);-webkit-text-stroke:0.15px #1f1f1f;">30 - 34</div>
<div class="r" style="left:89.00px;top:688.62px;width:84.20px;height:9.35px;background:#c8222b;"></div>
<div class="r" style="left:172.60px;top:688.62px;width:94.15px;height:9.35px;background:#1e2d5f;"></div>
<div class="t" style="top:689.00px;font-size:8.3px;color:#1f1f1f;left:18.36px;transform-origin:100% 50%;transform:scaleX(0.8530);-webkit-text-stroke:0.15px #1f1f1f;">25 - 29</div>
<div class="r" style="left:82.25px;top:699.64px;width:90.95px;height:9.35px;background:#c8222b;"></div>
<div class="r" style="left:172.60px;top:699.64px;width:104.65px;height:9.35px;background:#1e2d5f;"></div>
<div class="t" style="top:700.00px;font-size:8.3px;color:#1f1f1f;left:18.36px;transform-origin:100% 50%;transform:scaleX(0.8530);-webkit-text-stroke:0.15px #1f1f1f;">20 - 24</div>
<div class="r" style="left:70.25px;top:710.66px;width:102.95px;height:9.35px;background:#c8222b;"></div>
<div class="r" style="left:172.60px;top:710.66px;width:118.40px;height:9.35px;background:#1e2d5f;"></div>
<div class="t" style="top:711.00px;font-size:8.3px;color:#1f1f1f;left:18.36px;transform-origin:100% 50%;transform:scaleX(0.8530);-webkit-text-stroke:0.15px #1f1f1f;">15 - 19</div>
<div class="r" style="left:71.00px;top:721.68px;width:102.20px;height:9.35px;background:#c8222b;"></div>
<div class="r" style="left:172.60px;top:721.68px;width:106.15px;height:9.35px;background:#1e2d5f;"></div>
<div class="t" style="top:722.00px;font-size:8.3px;color:#1f1f1f;left:18.36px;transform-origin:100% 50%;transform:scaleX(0.8530);-webkit-text-stroke:0.15px #1f1f1f;">10 - 14</div>
<div class="r" style="left:67.00px;top:732.70px;width:106.20px;height:9.35px;background:#c8222b;"></div>
<div class="r" style="left:172.60px;top:732.70px;width:112.15px;height:9.35px;background:#1e2d5f;"></div>
<div class="t" style="top:734.00px;font-size:8.3px;color:#1f1f1f;left:24.70px;transform-origin:50% 50%;transform:scaleX(0.8530);-webkit-text-stroke:0.15px #1f1f1f;">5 - 9</div>
<div class="r" style="left:72.75px;top:743.72px;width:100.45px;height:9.35px;background:#c8222b;"></div>
<div class="r" style="left:172.60px;top:743.72px;width:102.65px;height:9.35px;background:#1e2d5f;"></div>
<div class="t" style="top:745.00px;font-size:8.3px;color:#1f1f1f;left:24.70px;transform-origin:50% 50%;transform:scaleX(0.8530);-webkit-text-stroke:0.15px #1f1f1f;">0 - 4</div>
<div class="r" style="left:51.62px;top:567.40px;width:0.80px;height:185.40px;background:rgba(255,255,255,0.14);"></div>
<div class="r" style="left:81.84px;top:567.40px;width:0.80px;height:185.40px;background:rgba(255,255,255,0.14);"></div>
<div class="r" style="left:112.06px;top:567.40px;width:0.80px;height:185.40px;background:rgba(255,255,255,0.14);"></div>
<div class="r" style="left:142.28px;top:567.40px;width:0.80px;height:185.40px;background:rgba(255,255,255,0.14);"></div>
<div class="r" style="left:202.72px;top:567.40px;width:0.80px;height:185.40px;background:rgba(255,255,255,0.14);"></div>
<div class="r" style="left:232.94px;top:567.40px;width:0.80px;height:185.40px;background:rgba(255,255,255,0.14);"></div>
<div class="r" style="left:263.16px;top:567.40px;width:0.80px;height:185.40px;background:rgba(255,255,255,0.14);"></div>
<div class="r" style="left:293.38px;top:567.40px;width:0.80px;height:185.40px;background:rgba(255,255,255,0.14);"></div>
<div class="t" style="top:761.00px;font-size:7.7px;color:#1f1f1f;left:42.99px;transform-origin:50% 50%;transform:scaleX(0.8680);-webkit-text-stroke:0.12px #1f1f1f;">1,800</div>
<div class="t" style="top:761.00px;font-size:7.7px;color:#1f1f1f;left:73.21px;transform-origin:50% 50%;transform:scaleX(0.8680);-webkit-text-stroke:0.12px #1f1f1f;">1,350</div>
<div class="t" style="top:761.00px;font-size:7.7px;color:#1f1f1f;left:106.64px;transform-origin:50% 50%;transform:scaleX(0.8680);-webkit-text-stroke:0.12px #1f1f1f;">900</div>
<div class="t" style="top:761.00px;font-size:7.7px;color:#1f1f1f;left:136.86px;transform-origin:50% 50%;transform:scaleX(0.8680);-webkit-text-stroke:0.12px #1f1f1f;">450</div>
<div class="t" style="top:761.00px;font-size:7.7px;color:#1f1f1f;left:171.36px;transform-origin:50% 50%;transform:scaleX(0.8680);-webkit-text-stroke:0.12px #1f1f1f;">0</div>
<div class="t" style="top:761.00px;font-size:7.7px;color:#1f1f1f;left:197.30px;transform-origin:50% 50%;transform:scaleX(0.8680);-webkit-text-stroke:0.12px #1f1f1f;">450</div>
<div class="t" style="top:761.00px;font-size:7.7px;color:#1f1f1f;left:227.52px;transform-origin:50% 50%;transform:scaleX(0.8680);-webkit-text-stroke:0.12px #1f1f1f;">900</div>
<div class="t" style="top:761.00px;font-size:7.7px;color:#1f1f1f;left:254.53px;transform-origin:50% 50%;transform:scaleX(0.8680);-webkit-text-stroke:0.12px #1f1f1f;">1,350</div>
<div class="t" style="top:761.00px;font-size:7.7px;color:#1f1f1f;left:284.75px;transform-origin:50% 50%;transform:scaleX(0.8680);-webkit-text-stroke:0.12px #1f1f1f;">1,800</div>
<div class="r" style="left:115.20px;top:774.90px;width:3.90px;height:3.90px;background:#c8222b;"></div>
<div class="t" style="top:773.00px;font-size:8.3px;color:#1f1f1f;left:121.00px;transform-origin:0 50%;transform:scaleX(0.8807);-webkit-text-stroke:0.12px #1f1f1f;">Mujeres</div>
<div class="r" style="left:167.60px;top:774.90px;width:3.90px;height:3.90px;background:#1e2d5f;"></div>
<div class="t" style="top:773.00px;font-size:8.3px;color:#1f1f1f;left:173.60px;transform-origin:0 50%;transform:scaleX(0.8910);-webkit-text-stroke:0.12px #1f1f1f;">Hombres</div>
<div class="t" style="top:789.00px;font-size:6.3px;color:#414042;left:15.60px;transform-origin:0 50%;transform:scaleX(1.0047);">Fuente: Estimaciones y Proyecciones Nacionales de Población 2020, ONE.</div>
<div class="t" style="top:291.00px;font-size:15.8px;color:#9d1d49;font-weight:bold;left:316.20px;transform-origin:0 50%;transform:scaleX(0.9111);">Clima</div>
<svg width="612" height="792" viewBox="0 0 612 792">
<rect x="374.7" y="319.6" width="78.30000000000001" height="56" rx="4.5" fill="#fff" stroke="#d7282f" stroke-width="1.4"/>
<circle cx="373.8" cy="336.0" r="30.6" fill="#fff" stroke="#d7282f" stroke-width="1.5"/>
<path d="M360.20000000000005,318.5 a5.4,5.4 0 0 1 10.8,0 V342.5 a9.35,9.35 0 1 1 -10.8,0Z" fill="#1d1a1b"/>
<path d="M361.8,318.5 a3.8,3.8 0 0 1 7.6,0 V343.4 a7.75,7.75 0 1 1 -7.6,0Z" fill="#8d8f92"/>
<path d="M363.3,318.0 a2.3,2.3 0 0 1 4.6,0 V344.2 a6.3,6.3 0 1 1 -4.6,0Z" fill="#1d1a1b"/>
<circle cx="365.6" cy="350.1" r="4.8" fill="#d7282f"/>
<rect x="364.5" y="317.4" width="2.2" height="30" rx="1.1" fill="#d7282f"/>
<circle cx="382.1" cy="321.9" r="8.1" fill="#85878a" stroke="#1d1a1b" stroke-width="1.5"/>
<path d="M382.1,316.9 l3.7,4.6 h-2.0 v5.3 h-3.4 v-5.3 h-2.0z" fill="#d7282f" stroke="#1d1a1b" stroke-width="0.9" stroke-linejoin="round"/>
<rect x="514.6" y="319.6" width="76.89999999999998" height="56" rx="4.5" fill="#fff" stroke="#2b95d6" stroke-width="1.4"/>
<circle cx="513.4" cy="335.9" r="30.6" fill="#fff" stroke="#2b95d6" stroke-width="1.5"/>
<path d="M499.8,318.5 a5.4,5.4 0 0 1 10.8,0 V342.5 a9.35,9.35 0 1 1 -10.8,0Z" fill="#1d1a1b"/>
<path d="M501.4,318.5 a3.8,3.8 0 0 1 7.6,0 V343.4 a7.75,7.75 0 1 1 -7.6,0Z" fill="#8d8f92"/>
<path d="M502.9,318.0 a2.3,2.3 0 0 1 4.6,0 V344.2 a6.3,6.3 0 1 1 -4.6,0Z" fill="#1d1a1b"/>
<circle cx="505.2" cy="350.1" r="4.8" fill="#2b95d6"/>
<rect x="504.09999999999997" y="317.4" width="2.2" height="30" rx="1.1" fill="#2b95d6"/>
<circle cx="522.8" cy="321.9" r="8.1" fill="#85878a" stroke="#1d1a1b" stroke-width="1.5"/>
<path d="M522.8,326.9 l3.7,-4.6 h-2.0 v-5.3 h-3.4 v5.3 h-2.0z" fill="#2b95d6" stroke="#1d1a1b" stroke-width="0.9" stroke-linejoin="round"/>
</svg>
<div class="t" style="top:331.00px;font-size:12.2px;color:#4f5052;font-weight:bold;left:409.77px;transform-origin:100% 50%;transform:scaleX(0.9697);">30.5°C</div>
<div class="t" style="top:346.00px;font-size:8.2px;color:#6c5d56;left:401.97px;transform-origin:100% 50%;transform:scaleX(0.9037);">Temperatura</div>
<div class="t" style="top:354.00px;font-size:8.2px;color:#6c5d56;left:417.02px;transform-origin:100% 50%;transform:scaleX(0.9005);">máxima,</div>
<div class="t" style="top:363.00px;font-size:8.2px;color:#6c5d56;left:429.76px;transform-origin:100% 50%;transform:scaleX(0.8826);">2018</div>
<div class="t" style="top:331.00px;font-size:12.2px;color:#4f5052;font-weight:bold;left:548.67px;transform-origin:100% 50%;transform:scaleX(0.9697);">22.3°C</div>
<div class="t" style="top:348.00px;font-size:8.2px;color:#6c5d56;left:540.07px;transform-origin:100% 50%;transform:scaleX(0.9037);">Temperatura</div>
<div class="t" style="top:356.00px;font-size:8.2px;color:#6c5d56;left:556.94px;transform-origin:100% 50%;transform:scaleX(0.9122);">mínima,</div>
<div class="t" style="top:365.00px;font-size:8.2px;color:#6c5d56;left:567.86px;transform-origin:100% 50%;transform:scaleX(0.8826);">2018</div>
<div class="t" style="top:387.00px;font-size:6.3px;color:#414042;left:316.50px;transform-origin:0 50%;transform:scaleX(1.0195);">Fuente: Datos de temperatura y precipitaciones, Oficina Nacional de Meteorología, 2018.</div>
<div class="r" style="left:315.40px;top:399.55px;width:287.40px;height:1.10px;background:#d98aa3;"></div>
<div class="t" style="top:405.00px;font-size:15px;color:#9d1d49;font-weight:bold;left:316.60px;transform-origin:0 50%;transform:scaleX(0.9599);">Indicadores censales año 2010</div>
<svg width="612" height="792" viewBox="0 0 612 792">
<path d="M318.1,434.3 Q318.1,432.90000000000003 319.70000000000005,433.5 L332.1,438.1 H429.0 Q431.5,438.1 431.5,440.6 V480.6 Q431.5,483.1 429.0,483.1 H320.6 Q318.1,483.1 318.1,480.6Z" fill="#dc4150"/>
<path d="M490.9,434.3 Q490.9,432.90000000000003 492.5,433.5 L504.9,438.1 H602.0 Q604.5,438.1 604.5,440.6 V480.6 Q604.5,483.1 602.0,483.1 H493.4 Q490.9,483.1 490.9,480.6Z" fill="#5b3c30"/>
<path d="M402.9,505.0 Q402.9,503.6 404.5,504.2 L416.9,508.8 H514.0 Q516.5,508.8 516.5,511.3 V550.7 Q516.5,553.2 514.0,553.2 H405.4 Q402.9,553.2 402.9,550.7Z" fill="#37673a"/>
<path d="M318.1,569.5 Q318.1,568.1 319.70000000000005,568.7 L332.1,573.3 H429.0 Q431.5,573.3 431.5,575.8 V614.9 Q431.5,617.4 429.0,617.4 H320.6 Q318.1,617.4 318.1,614.9Z" fill="#f15b2a"/>
<path d="M490.9,569.5 Q490.9,568.1 492.5,568.7 L504.9,573.3 H602.0 Q604.5,573.3 604.5,575.8 V614.9 Q604.5,617.4 602.0,617.4 H493.4 Q490.9,617.4 490.9,614.9Z" fill="#9e2649"/>
</svg>
<div class="t" style="top:444.00px;font-size:10.5px;color:#ffffff;font-weight:bold;left:363.98px;transform-origin:50% 50%;">25.6</div>
<div class="t" style="top:456.00px;font-size:7.9px;color:#ffffff;left:329.62px;transform-origin:50% 50%;transform:scaleX(0.9550);">Índice de envejecimiento:</div>
<div class="t" style="top:464.00px;font-size:7.9px;color:#ffffff;left:321.94px;transform-origin:50% 50%;transform:scaleX(0.9550);">mayores de 65 años por cada</div>
<div class="t" style="top:472.00px;font-size:7.9px;color:#ffffff;left:330.50px;transform-origin:50% 50%;transform:scaleX(0.9550);">100 menores de 15 años</div>
<div class="t" style="top:443.00px;font-size:10.5px;color:#ffffff;font-weight:bold;left:537.28px;transform-origin:50% 50%;">38.3</div>
<div class="t" style="top:455.00px;font-size:7.9px;color:#ffffff;left:506.66px;transform-origin:50% 50%;transform:scaleX(0.9550);">Menores de cinco años</div>
<div class="t" style="top:464.00px;font-size:7.9px;color:#ffffff;left:506.88px;transform-origin:50% 50%;transform:scaleX(0.9550);">por mujer en edad fértil</div>
<div class="t" style="top:515.00px;font-size:10.5px;color:#ffffff;font-weight:bold;left:450.84px;transform-origin:50% 50%;">984</div>
<div class="t" style="top:528.00px;font-size:7.9px;color:#ffffff;left:412.17px;transform-origin:50% 50%;transform:scaleX(0.9550);">Población residente nacida</div>
<div class="t" style="top:538.00px;font-size:7.9px;color:#ffffff;left:432.37px;transform-origin:50% 50%;transform:scaleX(0.9550);">en el extranjero</div>
<div class="t" style="top:580.00px;font-size:10.5px;color:#ffffff;font-weight:bold;left:361.06px;transform-origin:50% 50%;">7,873</div>
<div class="t" style="top:593.00px;font-size:7.9px;color:#ffffff;left:326.77px;transform-origin:50% 50%;transform:scaleX(0.9550);">Población residente nacida</div>
<div class="t" style="top:603.00px;font-size:7.9px;color:#ffffff;left:344.12px;transform-origin:50% 50%;transform:scaleX(0.9550);">en otro municipio</div>
<div class="t" style="top:580.00px;font-size:10.5px;color:#ffffff;font-weight:bold;left:537.28px;transform-origin:50% 50%;">82.6</div>
<div class="t" style="top:593.00px;font-size:7.9px;color:#ffffff;left:504.69px;transform-origin:50% 50%;transform:scaleX(0.9550);">Crecimiento intercensal*</div>
<div class="t" style="top:633.00px;font-size:6.3px;color:#414042;left:316.20px;transform-origin:0 50%;transform:scaleX(1.0053);">Fuente: IX Censo Nacional de Población y Vivienda 2010, ONE.</div>
<div class="t" style="top:640.00px;font-size:6.3px;color:#414042;left:315.60px;transform-origin:0 50%;transform:scaleX(1.0486);">* Dato revisado.</div>
<div class="r" style="left:315.50px;top:650.20px;width:287.30px;height:1.10px;background:#d98aa3;"></div>
<div class="t" style="top:656.00px;font-size:15px;color:#9d1d49;font-weight:bold;left:316.90px;transform-origin:0 50%;transform:scaleX(0.9628);">Comercio exterior</div>
<svg width="612" height="792" viewBox="0 0 612 792">
<line x1="328.2" y1="744.4" x2="417" y2="744.4" stroke="#3b7a35" stroke-width="2"/>
<line x1="510" y1="716.0" x2="599.2" y2="716.0" stroke="#3b7a35" stroke-width="2"/>
<circle cx="463.2" cy="728.4" r="47.4" fill="#fff" stroke="#3b7a35" stroke-width="2"/>
<path d="M419,729.7 L428.6,730.6 Q431.5,735.6 437,736.6 L478.5,736.6 Q483.5,734.5 485,729.7 L508.2,729.7 Q503,738 494,744 L428.5,744 Q427.5,737.5 419,729.7Z" fill="#17141a"/>
<path d="M428.3,739.2 L500.5,739.2 Q497.5,742 494,744.2 L428.6,744.2Z" fill="#ed1c24"/>
<path d="M429.2,719.2 h2.6 v-0.8 h9.5 l2.2,1.4 v13.2 q-3,2.6 -6,2.6 h-3.2 q-3.2,-1.4 -5.1,-5.4z" fill="#dcddde"/>
<rect x="430.4" y="714.2" width="1.6" height="5.4" fill="#2b2b2b"/>
<rect x="432" y="722" width="1.1" height="1.1" fill="#2b2b2b"/>
<rect x="435.2" y="722" width="1.1" height="1.1" fill="#2b2b2b"/>
<rect x="438.4" y="722" width="1.1" height="1.1" fill="#2b2b2b"/>
<rect x="433.6" y="725.2" width="1.1" height="1.1" fill="#2b2b2b"/>
<rect x="436.8" y="725.2" width="1.1" height="1.1" fill="#2b2b2b"/>
<rect x="440" y="725.2" width="1.1" height="1.1" fill="#2b2b2b"/>
<rect x="435.2" y="728.4" width="1.1" height="1.1" fill="#2b2b2b"/>
<rect x="438.4" y="728.4" width="1.1" height="1.1" fill="#2b2b2b"/>
<rect x="436.8" y="731.4" width="1.1" height="1.1" fill="#2b2b2b"/>
<rect x="440.0" y="733.8" width="1.2" height="2.6" fill="#ed1c24"/>
<rect x="456.2" y="721.3" width="45.7" height="3.9" fill="#3c5a3a"/>
<rect x="456.2" y="721.3" width="7.4" height="3.8" fill="#2e8048"/>
<rect x="463.9" y="721.3" width="7.4" height="3.8" fill="#c9791f"/>
<rect x="471.5" y="721.3" width="7.4" height="3.8" fill="#2e8048"/>
<rect x="479.1" y="721.3" width="7.4" height="3.8" fill="#c8323c"/>
<rect x="486.8" y="721.3" width="7.4" height="3.8" fill="#2e8048"/>
<rect x="494.5" y="721.3" width="7.4" height="3.8" fill="#c8323c"/>
<rect x="448.6" y="725.2" width="53.2" height="4.0" fill="#3c5a3a"/>
<rect x="448.6" y="725.2" width="7.4" height="3.9" fill="#2e8048"/>
<rect x="456.2" y="725.2" width="7.4" height="3.9" fill="#c9791f"/>
<rect x="463.9" y="725.2" width="7.4" height="3.9" fill="#2e8048"/>
<rect x="471.5" y="725.2" width="7.4" height="3.9" fill="#c9791f"/>
<rect x="479.2" y="725.2" width="7.4" height="3.9" fill="#2e8048"/>
<rect x="486.8" y="725.2" width="7.4" height="3.9" fill="#c9791f"/>
<rect x="494.5" y="725.2" width="7.4" height="3.9" fill="#2e8048"/>
<rect x="448.6" y="729.2" width="36.5" height="4.0" fill="#3c5a3a"/>
<rect x="448.6" y="729.2" width="7.1" height="3.9" fill="#2e8048"/>
<rect x="456.0" y="729.2" width="7.1" height="3.9" fill="#c8323c"/>
<rect x="463.3" y="729.2" width="7.1" height="3.9" fill="#2e8048"/>
<rect x="470.7" y="729.2" width="7.1" height="3.9" fill="#c9791f"/>
<rect x="478.0" y="729.2" width="7.1" height="3.9" fill="#2e8048"/>
<rect x="448.6" y="733.2" width="34.1" height="3.8" fill="#3c5a3a"/>
<rect x="448.6" y="733.2" width="8.3" height="3.6" fill="#c9791f"/>
<rect x="457.2" y="733.2" width="8.3" height="3.6" fill="#2e8048"/>
<rect x="465.8" y="733.2" width="8.3" height="3.6" fill="#c9791f"/>
<rect x="474.4" y="733.2" width="8.3" height="3.6" fill="#2e8048"/>
</svg>
<div class="t" style="top:708.00px;font-size:11px;color:#3b2416;font-weight:bold;left:366.64px;transform-origin:50% 50%;">0</div>
<div class="t" style="top:721.00px;font-size:8.9px;color:#3b2416;left:327.16px;transform-origin:50% 50%;transform:scaleX(0.9594);-webkit-text-stroke:0.15px #3b2416;">Número de empresas</div>
<div class="t" style="top:732.00px;font-size:8.9px;color:#3b2416;left:344.12px;transform-origin:50% 50%;transform:scaleX(0.9625);-webkit-text-stroke:0.15px #3b2416;">exportadoras</div>
<div class="t" style="top:678.00px;font-size:11px;color:#3b2416;font-weight:bold;left:551.44px;transform-origin:50% 50%;">0</div>
<div class="t" style="top:691.00px;font-size:8.9px;color:#3b2416;left:511.41px;transform-origin:50% 50%;transform:scaleX(0.9652);-webkit-text-stroke:0.15px #3b2416;">Número de empresas</div>
<div class="t" style="top:701.00px;font-size:8.9px;color:#3b2416;left:528.63px;transform-origin:50% 50%;transform:scaleX(0.9896);-webkit-text-stroke:0.15px #3b2416;">importadoras</div>
<div class="t" style="top:789.00px;font-size:6.3px;color:#414042;left:316.50px;transform-origin:0 50%;transform:scaleX(1.0201);">Fuente: Perfil de Empresas Exportadoras e Importadoras de la República Dominicana 2015-2017.</div>
</body></html>
